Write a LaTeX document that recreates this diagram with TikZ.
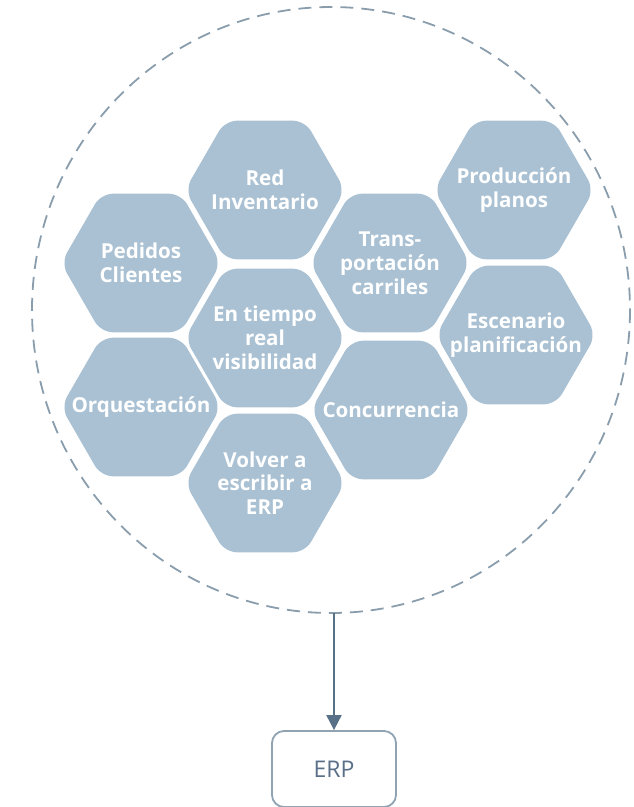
\documentclass[tikz,border=0pt]{standalone}
\usepackage{fontspec}
\setmainfont{Open Sans}
\usetikzlibrary{arrows.meta}
\definecolor{hexfill}{HTML}{A9C1D3}
\definecolor{circlecol}{HTML}{8A9DAD}
\definecolor{arrowcol}{HTML}{587189}
\definecolor{boxcol}{HTML}{8FA3B3}
\definecolor{erptext}{HTML}{5A7088}
\tikzset{
  hexshape/.style={fill=hexfill, rounded corners=12pt},
  hextext/.style={text=white, align=center, font=\bfseries\fontsize{20.6}{23.8}\selectfont, inner sep=0pt},
  dashcircle/.style={draw=circlecol, line width=1.8pt, dash pattern=on 13pt off 8pt},
  erpbox/.style={draw=boxcol, line width=1.8pt, rounded corners=12pt, minimum width=124pt, minimum height=76pt, text=erptext, font=\fontsize{23}{27}\selectfont},
  flow/.style={draw=arrowcol, line width=2pt, -{Triangle[length=15pt, width=15pt]}}
}
\newcommand{\hexagon}[4]{%
  \path[hexshape] (#2+80,#3) -- (#2+40,#3+69.3) -- (#2-40,#3+69.3) -- (#2-80,#3) -- (#2-40,#3-69.3) -- (#2+40,#3-69.3) -- cycle;
  \node[hextext] (#1) at (#2,#3) {#4};
}
\begin{document}
\begin{tikzpicture}[x=1pt,y=-1pt]
\useasboundingbox (0,0) rectangle (633,807);
\draw[dashcircle] (331,310) ellipse [x radius=299, y radius=303];
\coordinate (cbot) at (334,613);
\hexagon{red}{265}{190}{Red\\Inventario}
\hexagon{ped}{141}{263}{Pedidos\\Clientes}
\hexagon{tiempo}{265}{338}{En tiempo\\real\\visibilidad}
\hexagon{trans}{390}{263}{Trans-\\portación\\carriles}
\hexagon{prod}{514}{190}{Producción\\planos}
\hexagon{esc}{516}{335}{Escenario\\planificación}
\hexagon{orq}{141}{407}{Orquestación}
\hexagon{conc}{391}{410}{Concurrencia}
\hexagon{volver}{265}{483}{Volver a\\escribir a\\ERP}
\node[erpbox] (erp) at (334,769) {ERP};
\draw[flow] (cbot) -- (erp.north);
\end{tikzpicture}
\end{document}
